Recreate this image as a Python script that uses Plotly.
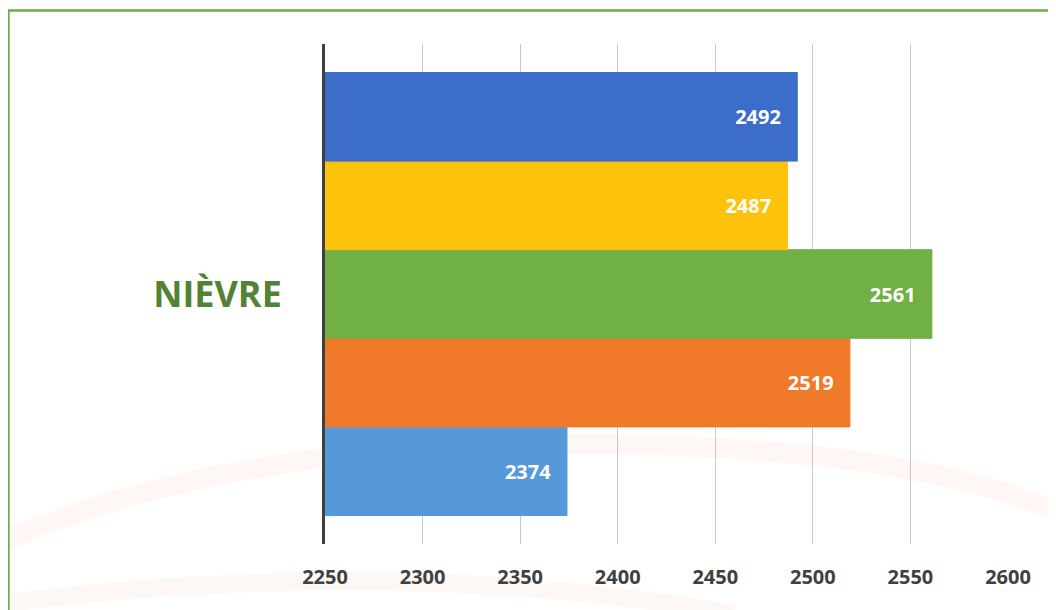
import plotly.graph_objects as go

categories = ["NIÈVRE"]
series_names = ["Série 1", "Série 2", "Série 3", "Série 4", "Série 5"]  # top to bottom
series_values = [2492, 2487, 2561, 2519, 2374]
series_colors = ["#3D6DCB", "#FDC20C", "#71B044", "#F07A2A", "#5599D8"]
x_ticks = [2250, 2300, 2350, 2400, 2450, 2500, 2550, 2600]

fig = go.Figure()
# plotly places horizontal grouped bars bottom-up, so add in reverse
for name, val, col in reversed(list(zip(series_names, series_values, series_colors))):
    fig.add_trace(go.Bar(
        y=categories, x=[val], name=name, orientation="h",
        marker=dict(color=col, line=dict(color=col, width=1)),
        text=[val], texttemplate="%{x}\u2002\u2009", textposition="inside",
        insidetextanchor="end",
        textfont=dict(family="Open Sans", size=20, color="white", weight="bold"),
    ))

fig.update_layout(
    width=1056, height=610,
    margin=dict(l=317, r=56, t=36, b=74),
    paper_bgcolor="white", plot_bgcolor="rgba(0,0,0,0)",
    barmode="group", bargap=0.114, bargroupgap=0,
    showlegend=False,
    xaxis=dict(range=[2250, 2600], tickvals=x_ticks, showgrid=True,
               gridcolor="#C8C8C8", gridwidth=1, zeroline=False,
               ticks="", ticklabelstandoff=19,
               tickfont=dict(family="Open Sans", size=20, color="#404040", weight="bold")),
    yaxis=dict(showline=True, linecolor="#404040", linewidth=3, ticks="",
               ticklabelstandoff=33,
               tickfont=dict(family="Open Sans", size=36, color="#548235", weight="bold")),
    shapes=[
        dict(type="path", xref="paper", yref="paper", layer="below",
             path="M -0.48 0.0 Q -0.15 0.2 0.35 0.2 Q 0.85 0.2 1.08 0.06",
             line=dict(color="rgba(240,140,80,0.07)", width=20)),
        dict(type="path", xref="paper", yref="paper", layer="below",
             path="M -0.48 -0.12 Q 0.1 -0.02 0.6 -0.14",
             line=dict(color="rgba(240,140,80,0.06)", width=18)),
        dict(type="rect", xref="paper", yref="paper",
             x0=-0.4635, x1=1.075, y0=-0.2, y1=1.067,
             line=dict(color="#70AD47", width=2.5)),
    ],
)

fig.write_html("out.html")
